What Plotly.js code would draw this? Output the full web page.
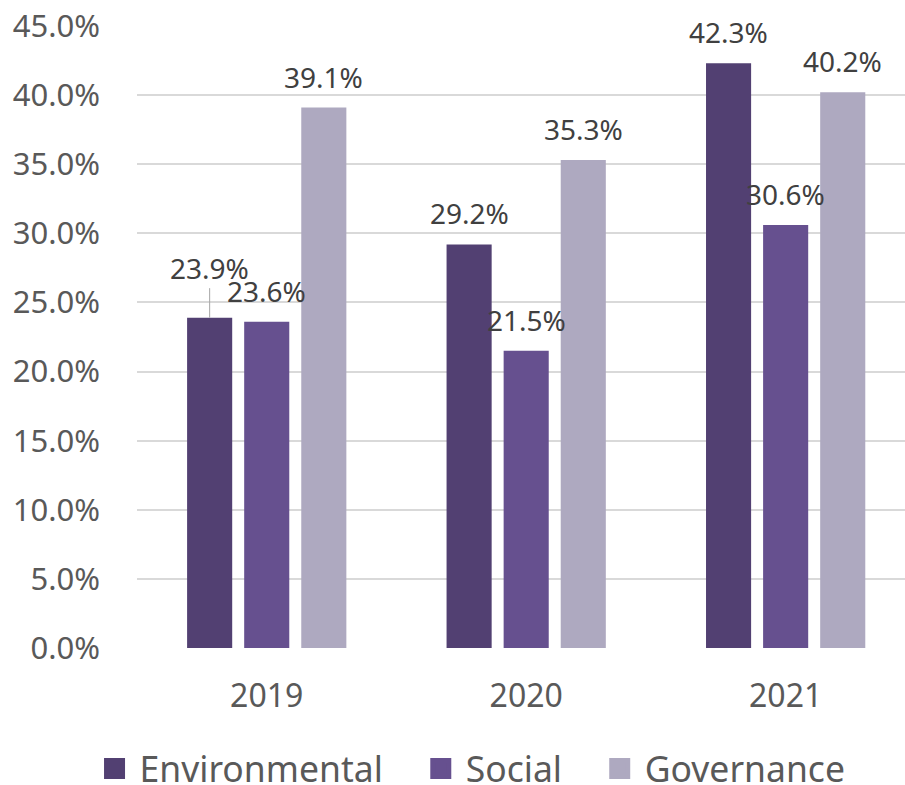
<!DOCTYPE html>
<html>
<head>
<meta charset="utf-8">
<script src="https://cdn.plot.ly/plotly-3.0.1.min.js"></script>
<style>
  html, body { margin: 0; padding: 0; background: #ffffff; }
  #chart { width: 905px; height: 785px; }
</style>
</head>
<body>
<div id="chart"></div>
<script>
// ---- data (values in %) ----
const categories = ['2019', '2020', '2021'];
const seriesNames = ['Environmental', 'Social', 'Governance'];
const environmental = [23.9, 29.2, 42.3];
const social = [23.6, 21.5, 30.6];
const governance = [39.1, 35.3, 40.2];
const tickValues = [0, 5, 10, 15, 20, 25, 30, 35, 40, 45];
const tickLabels = ['0.0%', '5.0%', '10.0%', '15.0%', '20.0%', '25.0%', '30.0%', '35.0%', '40.0%', '45.0%'];

// ---- style ----
const PCT = '\u0025';
const colors = ['#524072', '#66508F', '#AEA9C0'];
const FONT = '"Noto Sans", "Open Sans", sans-serif';
const seriesValues = [environmental, social, governance];
const legendIds = ['legend', 'legend2', 'legend3'];

const W = 905, H = 785;
const margin = {l: 137, r: 0, t: 26, b: 137, autoexpand: false};
const xRange = [-0.5, 2.46];
const bargap = 0.34, bargroupgap = 0.21;
const plotW = W - margin.l - margin.r;
const catPx = plotW / (xRange[1] - xRange[0]);
const slotPx = catPx * (1 - bargap) / seriesNames.length;

const traces = [];
seriesNames.forEach((name, i) => {
  traces.push({
    type: 'bar',
    name: name,
    x: categories,
    y: seriesValues[i],
    marker: {color: colors[i]},
    showlegend: false,
    hoverinfo: 'skip'
  });
});
// legend entries (bigger square swatches)
seriesNames.forEach((name, i) => {
  traces.push({
    type: 'scatter',
    mode: 'markers',
    name: name,
    x: [null],
    y: [null],
    legend: legendIds[i],
    marker: {symbol: 'square', size: 16, color: colors[i], line: {color: colors[i], width: 5}},
    showlegend: true,
    hoverinfo: 'skip'
  });
});

// data labels
const annotations = [];
seriesNames.forEach((name, i) => {
  categories.forEach((cat, j) => {
    const v = seriesValues[i][j];
    const leader = (i === 0 && j === 0);
    const a = {
      x: j, y: v, xref: 'x', yref: 'y',
      text: v.toFixed(1) + PCT,
      xshift: (i - 1) * slotPx,
      font: {family: FONT, size: 28, color: '#404040'},
      xanchor: 'center', yanchor: 'middle'
    };
    if (leader) {
      a.showarrow = true;
      a.arrowhead = 0;
      a.arrowwidth = 1;
      a.arrowcolor = '#A6A6A6';
      a.ax = 0;
      a.ay = -50;
      a.standoff = 0;
    } else {
      a.showarrow = false;
      a.yshift = 31;
    }
    annotations.push(a);
  });
});

const legendBase = {
  orientation: 'h',
  xanchor: 'left',
  y: -0.1945, yanchor: 'middle',
  font: {family: FONT, size: 35.5, color: '#595959'},
  itemwidth: 40,
  bgcolor: 'rgba(0,0,0,0)'
};
const legendX = [-0.0618, 0.3630, 0.5960];

const layout = {
  width: W, height: H,
  margin: margin,
  paper_bgcolor: '#ffffff',
  plot_bgcolor: '#ffffff',
  barmode: 'group',
  bargap: bargap,
  bargroupgap: bargroupgap,
  font: {family: FONT, color: '#595959'},
  xaxis: {
    type: 'category',
    range: xRange,
    showgrid: false,
    showline: false,
    zeroline: false,
    ticks: '',
    tickfont: {family: FONT, size: 32, color: '#595959'},
    ticklabelstandoff: 26,
    fixedrange: true
  },
  yaxis: {
    range: [0, 45],
    tickmode: 'array',
    tickvals: tickValues,
    ticktext: tickLabels,
    showgrid: true,
    gridcolor: '#D9D9D9',
    gridwidth: 2,
    zeroline: false,
    showline: false,
    ticks: '',
    tickfont: {family: FONT, size: 31, color: '#595959'},
    ticklabelstandoff: 36,
    fixedrange: true
  },
  annotations: annotations,
  showlegend: true
};
legendIds.forEach((id, i) => {
  layout[id] = Object.assign({}, legendBase, {x: legendX[i]});
});

Plotly.newPlot('chart', traces, layout, {displayModeBar: false, staticPlot: true});
</script>
</body>
</html>
